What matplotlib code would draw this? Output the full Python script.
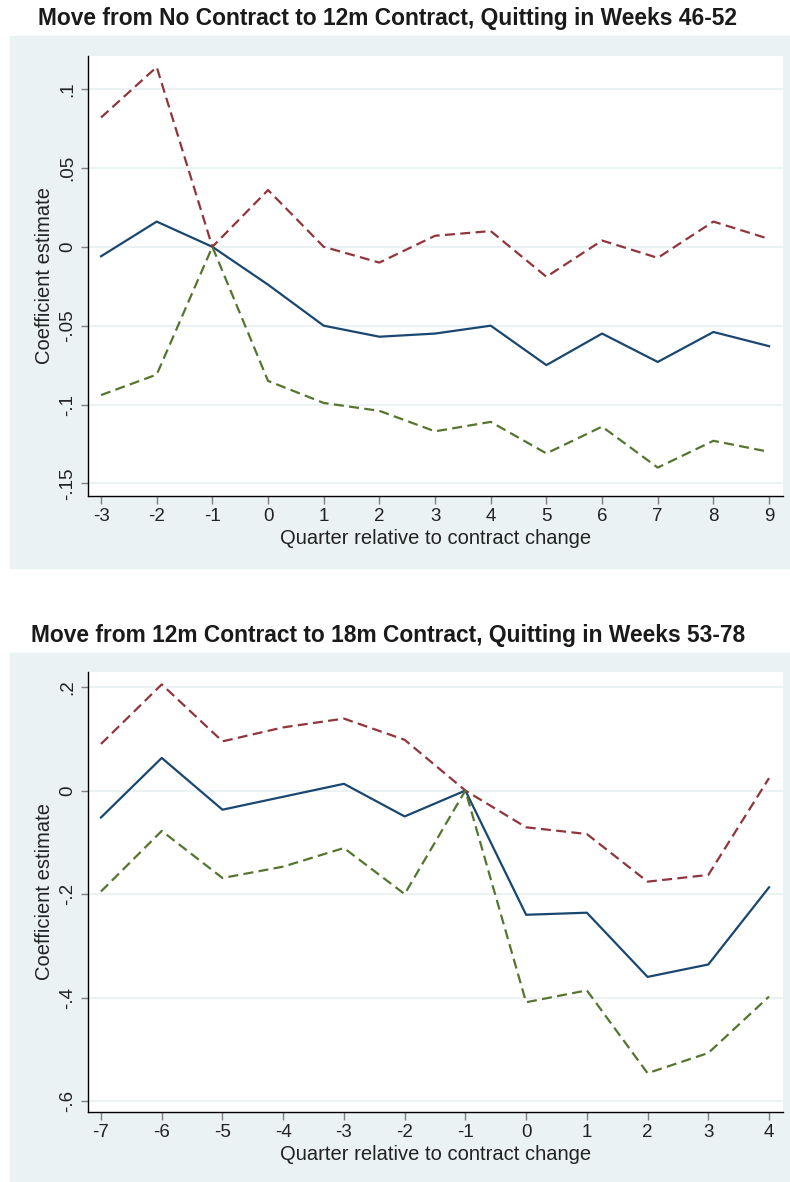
import matplotlib
matplotlib.use("Agg")
import matplotlib.pyplot as plt
from matplotlib.patches import Rectangle

# --- Panel 1: No contract -> 12m contract, quitting weeks 46-52 ---
q1 = [-3, -2, -1, 0, 1, 2, 3, 4, 5, 6, 7, 8, 9]
coef1 = [-0.006, 0.016, 0.0, -0.024, -0.050, -0.057, -0.055, -0.050, -0.075,
         -0.055, -0.073, -0.054, -0.063]
upper1 = [0.082, 0.114, 0.0, 0.036, 0.0, -0.010, 0.007, 0.010, -0.019,
          0.004, -0.007, 0.016, 0.005]
lower1 = [-0.094, -0.081, 0.0, -0.085, -0.099, -0.104, -0.117, -0.111, -0.131,
          -0.114, -0.140, -0.123, -0.130]
yticks1 = [0.1, 0.05, 0.0, -0.05, -0.1, -0.15]
ylabels1 = [".1", ".05", "0", "-.05", "-.1", "-.15"]
title1 = "Move from No Contract to 12m Contract, Quitting in Weeks 46-52"

# --- Panel 2: 12m -> 18m contract, quitting weeks 53-78 ---
q2 = [-7, -6, -5, -4, -3, -2, -1, 0, 1, 2, 3, 4]
coef2 = [-0.052, 0.063, -0.037, -0.012, 0.013, -0.050, 0.0, -0.240, -0.236,
         -0.360, -0.336, -0.187]
upper2 = [0.090, 0.205, 0.095, 0.122, 0.139, 0.098, 0.0, -0.071, -0.084,
          -0.176, -0.163, 0.024]
lower2 = [-0.195, -0.078, -0.169, -0.147, -0.111, -0.200, 0.0, -0.409, -0.386,
          -0.546, -0.507, -0.398]
yticks2 = [0.2, 0.0, -0.2, -0.4, -0.6]
ylabels2 = [".2", "0", "-.2", "-.4", "-.6"]
title2 = "Move from 12m Contract to 18m Contract, Quitting in Weeks 53-78"

NAVY = "#1a476f"
MAROON = "#90353b"
GREEN = "#55752f"
BG = "#eaf2f3"

W, H = 790, 1182
fig = plt.figure(figsize=(W / 100, H / 100), dpi=100)
plt.rcParams["font.family"] = ["Liberation Sans", "DejaVu Sans"]


def fx(px):
    return px / W


def fy(py):
    return 1 - py / H


def panel(x, coef, upper, lower, yt, yl, title, bg_top, bg_bot, ax_top, ax_bot, title_y, ylim, xlim):
    # light backdrop behind the whole graph region
    fig.patches.append(Rectangle((fx(10), fy(bg_bot)), fx(780), (bg_bot - bg_top) / H,
                                 transform=fig.transFigure, color=BG, zorder=-10))
    fig.text(fx(388), fy(title_y), title, ha="center", va="center",
             fontsize=16.4, fontweight="bold", color="#1a1a1a")
    ax = fig.add_axes([fx(88), fy(ax_bot), fx(695), (ax_bot - ax_top) / H])
    ax.set_facecolor("white")
    ax.plot(x, coef, color=NAVY, lw=1.6, zorder=3)
    ax.plot(x, upper, color=MAROON, lw=1.6, dashes=(4.5, 2.4), zorder=3)
    ax.plot(x, lower, color=GREEN, lw=1.6, dashes=(4.5, 2.4), zorder=3)
    ax.set_xlim(*xlim)
    ax.set_ylim(*ylim)
    ax.set_xticks(x)
    ax.set_xticklabels([str(v) for v in x])
    ax.set_yticks(yt)
    ax.set_yticklabels(yl, rotation=90, va="center")
    for s in ["top", "right"]:
        ax.spines[s].set_visible(False)
    for s in ["left", "bottom"]:
        ax.spines[s].set_color("black")
        ax.spines[s].set_linewidth(1.0)
    ax.tick_params(axis="both", colors="#808080", length=5.4, width=1.0,
                   labelcolor="#222222", labelsize=13.5, pad=3)
    ax.yaxis.grid(True, color=BG, lw=1.5)
    ax.set_axisbelow(True)
    ax.set_xlabel("Quarter relative to contract change", fontsize=14.5, color="#222222", va="top")
    ax.xaxis.set_label_coords(0.5, -0.075)
    ax.set_ylabel("Coefficient estimate", fontsize=14.5, color="#222222")
    ax.yaxis.set_label_coords(-0.049, 0.5)
    return ax


panel(q1, coef1, upper1, lower1, yticks1, ylabels1, title1,
      36, 568, 56, 496, 18, (-0.158, 0.121), (-3.234, 9.25))
panel(q2, coef2, upper2, lower2, yticks2, ylabels2, title2,
      653, 1182, 672, 1112, 636, (-0.621, 0.229), (-7.214, 4.23))

fig.savefig("out.png", dpi=100, facecolor="white")
